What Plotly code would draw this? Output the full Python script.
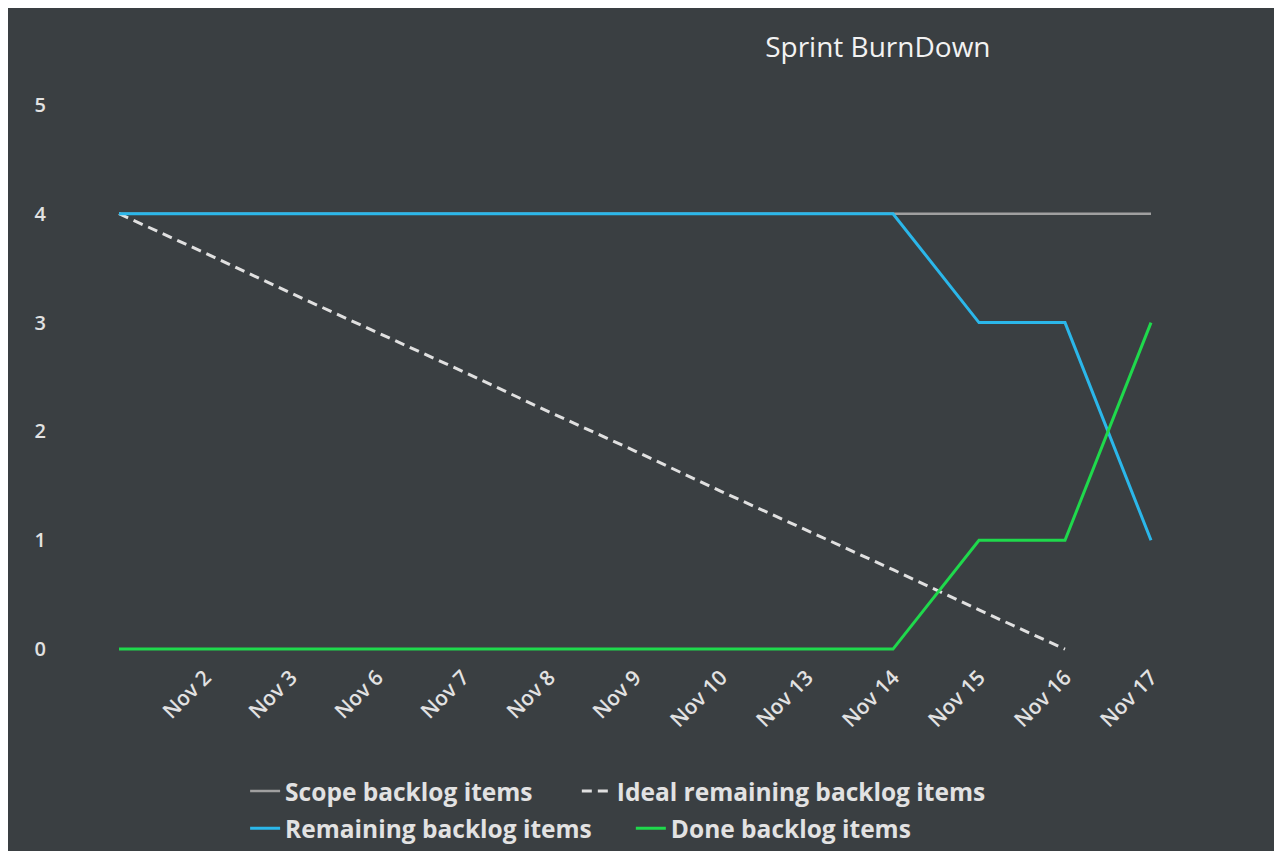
import plotly.graph_objects as go

x_labels = ["", "Nov 2", "Nov 3", "Nov 6", "Nov 7", "Nov 8", "Nov 9", "Nov 10",
            "Nov 13", "Nov 14", "Nov 15", "Nov 16", "Nov 17"]
scope = [4, 4, 4, 4, 4, 4, 4, 4, 4, 4, 4, 4, 4]
ideal = [4, 3.64, 3.27, 2.91, 2.55, 2.18, 1.82, 1.45, 1.09, 0.73, 0.36, 0, None]
remaining = [4, 4, 4, 4, 4, 4, 4, 4, 4, 4, 3, 3, 1]
done = [0, 0, 0, 0, 0, 0, 0, 0, 0, 0, 1, 1, 3]
y_ticks = [0, 1, 2, 3, 4, 5]

idx = list(range(len(x_labels)))
BG = "#3a3f42"
TXT = "#e2e2e2"
FONT = "Open Sans"

fig = go.Figure()
fig.add_trace(go.Scatter(x=idx, y=scope, mode="lines", name="Scope backlog items",
                         line=dict(color="#a0a0a0", width=2.5), legend="legend", showlegend=True))
fig.add_trace(go.Scatter(x=idx, y=ideal, mode="lines", name="Ideal remaining backlog items",
                         line=dict(color="#e0e0e0", width=3, dash="10px,6px"), legend="legend2",
                         showlegend=True))
fig.add_trace(go.Scatter(x=idx, y=remaining, mode="lines", name="Remaining backlog items",
                         line=dict(color="#2bb7ea", width=3), legend="legend3", showlegend=True))
fig.add_trace(go.Scatter(x=idx, y=done, mode="lines", name="Done backlog items",
                         line=dict(color="#1fd94c", width=3), legend="legend4", showlegend=True))

legend_common = dict(orientation="h", xref="container", yref="container",
                     xanchor="left", yanchor="middle", bgcolor="rgba(0,0,0,0)",
                     font=dict(family=FONT, size=24.5, color=TXT, weight="bold"))

fig.update_layout(
    width=1268, height=843,
    showlegend=True,
    margin=dict(l=68, r=82, t=86, b=191),
    paper_bgcolor=BG, plot_bgcolor=BG,
    font=dict(family=FONT, color=TXT),
    title=dict(text="Sprint BurnDown", x=0.686, xanchor="center", y=0.953, yanchor="middle",
               xref="container", yref="container",
               font=dict(family=FONT, size=28, color="#f2f2f2")),
    xaxis=dict(range=[-0.5, 12.5], tickmode="array", tickvals=idx, ticktext=x_labels,
               tickangle=-45, showgrid=False, zeroline=False, showline=False,
               tickfont=dict(family=FONT, size=21, color=TXT, weight=600)),
    yaxis=dict(range=[-0.1, 5.1], tickmode="array", tickvals=y_ticks,
               showgrid=False, zeroline=False, showline=False, ticklabelstandoff=29,
               tickfont=dict(family=FONT, size=20, color=TXT, weight=600)),
    legend=dict(x=0.187, y=0.071, **legend_common),
    legend2=dict(x=0.4486, y=0.071, **legend_common),
    legend3=dict(x=0.187, y=0.027, **legend_common),
    legend4=dict(x=0.4912, y=0.027, **legend_common),
)

fig.write_html("out.html")
